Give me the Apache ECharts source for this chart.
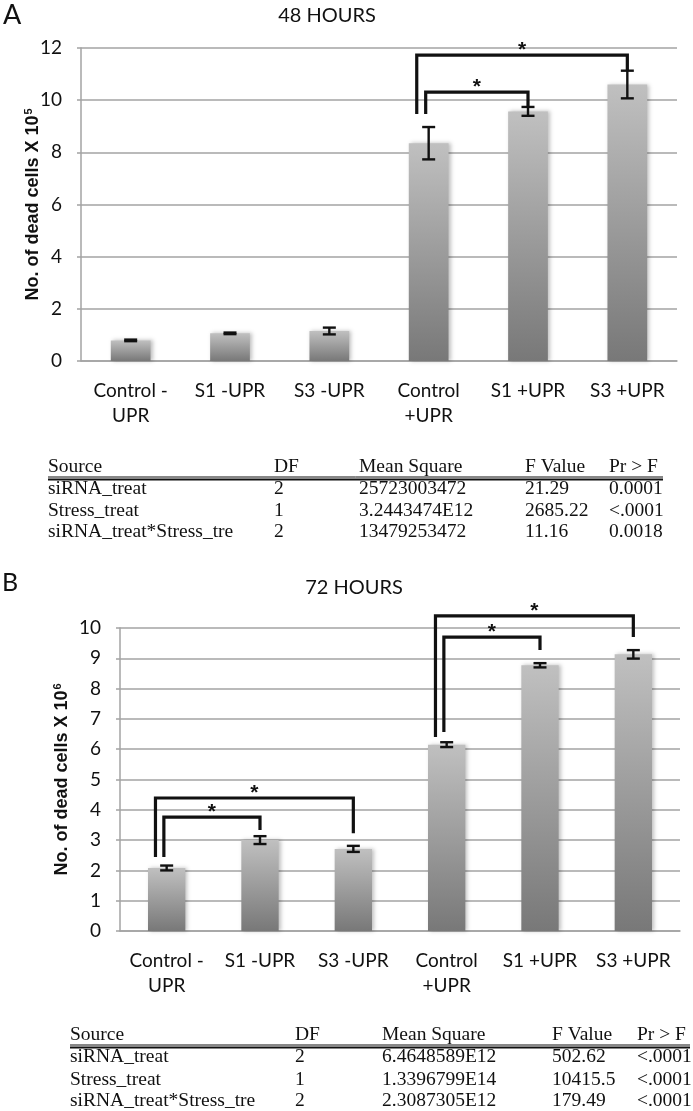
<!DOCTYPE html>
<html>
<head>
<meta charset="utf-8">
<script src="https://cdn.jsdelivr.net/npm/echarts@6/dist/echarts.min.js"></script>
<style>
  html, body { margin: 0; padding: 0; background: #fff; }
  #chart { width: 693px; height: 1111px; }
</style>
</head>
<body>
<div id="chart"></div>
<script>
// categories shared by both panels
const categories = ['Control -\nUPR', 'S1 -UPR', 'S3 -UPR', 'Control\n+UPR', 'S1 +UPR', 'S3 +UPR'];

// panel A, 48 hours (x 10^5)
const meanA = [0.79, 1.06, 1.15, 8.35, 9.57, 10.6];
const errA = [0.03, 0.03, 0.13, 0.62, 0.17, 0.53];
// brackets: [from, to, top, fromEnd, toEnd, outer]
const bracketsA = [
  [3, 4, 10.31, 9.47, 9.74, 0],
  [3, 5, 11.73, 9.47, 11.12, 1]
];

// panel B, 72 hours (x 10^6)
const meanB = [2.08, 3.0, 2.71, 6.15, 8.77, 9.13];
const errB = [0.08, 0.13, 0.1, 0.08, 0.07, 0.14];
const bracketsB = [
  [0, 1, 3.76, 2.44, 3.33, 0],
  [0, 2, 4.39, 2.44, 3.23, 1],
  [3, 4, 9.7, 6.57, 9.27, 0],
  [3, 5, 10.4, 6.4, 9.7, 1]
];

// ANOVA tables under each panel
const tableHead = ['Source', 'DF', 'Mean Square', 'F Value', 'Pr > F'];
const anovaA = [
  ['siRNA_treat', '2', '25723003472', '21.29', '0.0001'],
  ['Stress_treat', '1', '3.2443474E12', '2685.22', '<.0001'],
  ['siRNA_treat*Stress_tre', '2', '13479253472', '11.16', '0.0018']
];
const anovaB = [
  ['siRNA_treat', '2', '6.4648589E12', '502.62', '<.0001'],
  ['Stress_treat', '1', '1.3396799E14', '10415.5', '<.0001'],
  ['siRNA_treat*Stress_tre', '2', '2.3087305E12', '179.49', '<.0001']
];

const axisGray = '#a3a3a3';
const ink = '#111';
const labelFont = 'Lato';

const barFill = new echarts.graphic.LinearGradient(0, 0, 0, 1, [
  {offset: 0, color: '#c0c0c0'},
  {offset: 1, color: '#787878'}
]);

function errorItem(params, api) {
  const i = api.value(0);
  const top = api.coord([i, api.value(1) + api.value(2)]);
  const bot = api.coord([i, api.value(1) - api.value(2)]);
  const w = 6.5;
  const st = {stroke: ink, lineWidth: 2.4};
  return {
    type: 'group', children: [
      {type: 'line', shape: {x1: top[0], y1: top[1], x2: bot[0], y2: bot[1]}, style: st},
      {type: 'line', shape: {x1: top[0] - w, y1: top[1], x2: top[0] + w, y2: top[1]}, style: st},
      {type: 'line', shape: {x1: bot[0] - w, y1: bot[1], x2: bot[0] + w, y2: bot[1]}, style: st}
    ]
  };
}

function bracketItem(params, api) {
  const a = api.coord([api.value(0), api.value(2)]);
  const b = api.coord([api.value(1), api.value(2)]);
  const yA = api.coord([api.value(0), api.value(3)])[1];
  const yB = api.coord([api.value(1), api.value(4)])[1];
  const bw = api.size([1, 0])[0];
  const x0 = a[0] - (api.value(5) ? 0.12 : 0.03) * bw;
  const x1 = b[0];
  return {
    type: 'group', children: [
      {
        type: 'polyline',
        shape: {points: [[x0, yA], [x0, a[1]], [x1, a[1]], [x1, yB]]},
        style: {stroke: ink, lineWidth: 3.2, fill: null}
      },
      {
        type: 'text', x: (x0 + x1) / 2, y: a[1] + 6,
        style: {text: '*', font: 'bold 21px "Liberation Sans"', fill: ink, align: 'center', verticalAlign: 'bottom'}
      }
    ]
  };
}

function xAxisFor(gi) {
  return {
    type: 'category', gridIndex: gi, data: categories,
    axisLine: {lineStyle: {color: axisGray, width: 1.5}},
    axisTick: {length: 6, lineStyle: {color: axisGray, width: 1.5}},
    axisLabel: {color: ink, fontFamily: labelFont, fontSize: 19, lineHeight: 25, margin: 17, interval: 0}
  };
}

function yAxisFor(gi, max, step, sup, gap) {
  return {
    type: 'value', gridIndex: gi, min: 0, max: max, interval: step,
    name: 'No. of dead cells X 10{s|' + sup + '}',
    nameLocation: 'middle', nameGap: gap, nameRotate: 90, nameMoveOverlap: false,
    nameTextStyle: {
      color: ink, fontFamily: 'Liberation Sans', fontWeight: 'bold', fontSize: 18,
      rich: {s: {fontFamily: 'Liberation Sans', fontWeight: 'bold', fontSize: 11, verticalAlign: 'top', padding: [0, 0, 9, 1]}}
    },
    axisLine: {show: true, lineStyle: {color: axisGray, width: 1.5}},
    axisTick: {show: true, length: 4, lineStyle: {color: axisGray, width: 1.5}},
    axisLabel: {color: ink, fontFamily: labelFont, fontSize: 19, margin: 19},
    splitLine: {lineStyle: {color: axisGray, width: 1.5}}
  };
}

function barSeries(gi, data) {
  return {
    type: 'bar', xAxisIndex: gi, yAxisIndex: gi, data: data,
    barWidth: '40%',
    itemStyle: {color: barFill, shadowBlur: 4, shadowColor: 'rgba(0,0,0,0.25)', shadowOffsetX: 2}
  };
}

function tableGraphics(rows, cols, ys, right) {
  const font = '19.5px "Liberation Serif"';
  const out = [];
  tableHead.forEach((h, c) => out.push({
    type: 'text', x: cols[c], y: ys[0],
    style: {text: h, font: font, fill: ink, verticalAlign: 'middle'}
  }));
  out.push({type: 'line', shape: {x1: cols[0], y1: ys[0] + 10, x2: right, y2: ys[0] + 10}, style: {stroke: ink, lineWidth: 1}});
  out.push({type: 'line', shape: {x1: cols[0], y1: ys[0] + 12.5, x2: right, y2: ys[0] + 12.5}, style: {stroke: ink, lineWidth: 2}});
  rows.forEach((r, ri) => r.forEach((v, c) => out.push({
    type: 'text', x: cols[c], y: ys[ri + 1],
    style: {text: v, font: font, fill: ink, verticalAlign: 'middle'}
  })));
  return out;
}

const chart = echarts.init(document.getElementById('chart'));

chart.setOption({
  animation: false,
  backgroundColor: '#fff',
  title: [
    {text: '48 HOURS', left: 322, top: 1, textAlign: 'center',
      textStyle: {fontFamily: labelFont, fontWeight: 'normal', fontSize: 20, color: ink}},
    {text: '72 HOURS', left: 349, top: 573, textAlign: 'center',
      textStyle: {fontFamily: labelFont, fontWeight: 'normal', fontSize: 20, color: ink}}
  ],
  grid: [
    {left: 81, top: 48, width: 596, height: 313},
    {left: 120, top: 628, width: 560, height: 303}
  ],
  xAxis: [xAxisFor(0), xAxisFor(1)],
  yAxis: [yAxisFor(0, 12, 2, '5', 38), yAxisFor(1, 10, 1, '6', 48)],
  series: [
    barSeries(0, meanA),
    barSeries(1, meanB),
    {type: 'custom', xAxisIndex: 0, yAxisIndex: 0, renderItem: errorItem, encode: {x: 0, y: 1}, z: 5,
      data: meanA.map((v, i) => [i, v, errA[i]])},
    {type: 'custom', xAxisIndex: 1, yAxisIndex: 1, renderItem: errorItem, encode: {x: 0, y: 1}, z: 5,
      data: meanB.map((v, i) => [i, v, errB[i]])},
    {type: 'custom', xAxisIndex: 0, yAxisIndex: 0, renderItem: bracketItem, encode: {x: 0, y: 2}, z: 6, clip: false,
      data: bracketsA},
    {type: 'custom', xAxisIndex: 1, yAxisIndex: 1, renderItem: bracketItem, encode: {x: 0, y: 2}, z: 6, clip: false,
      data: bracketsB}
  ],
  graphic: [
    {type: 'text', left: 3, top: 2, style: {text: 'A', font: '27px Lato', fill: ink}},
    {type: 'text', left: 2, top: 570, style: {text: 'B', font: '25px Lato', fill: ink}},
    {type: 'group', left: 0, top: 0, bounding: 'raw',
      children: tableGraphics(anovaA, [48, 274, 359, 525, 609], [467, 489, 511, 532], 663)},
    {type: 'group', left: 0, top: 0, bounding: 'raw',
      children: tableGraphics(anovaB, [70, 295, 382, 552, 637], [1035, 1057, 1080, 1101], 690)}
  ]
});
</script>
</body>
</html>
